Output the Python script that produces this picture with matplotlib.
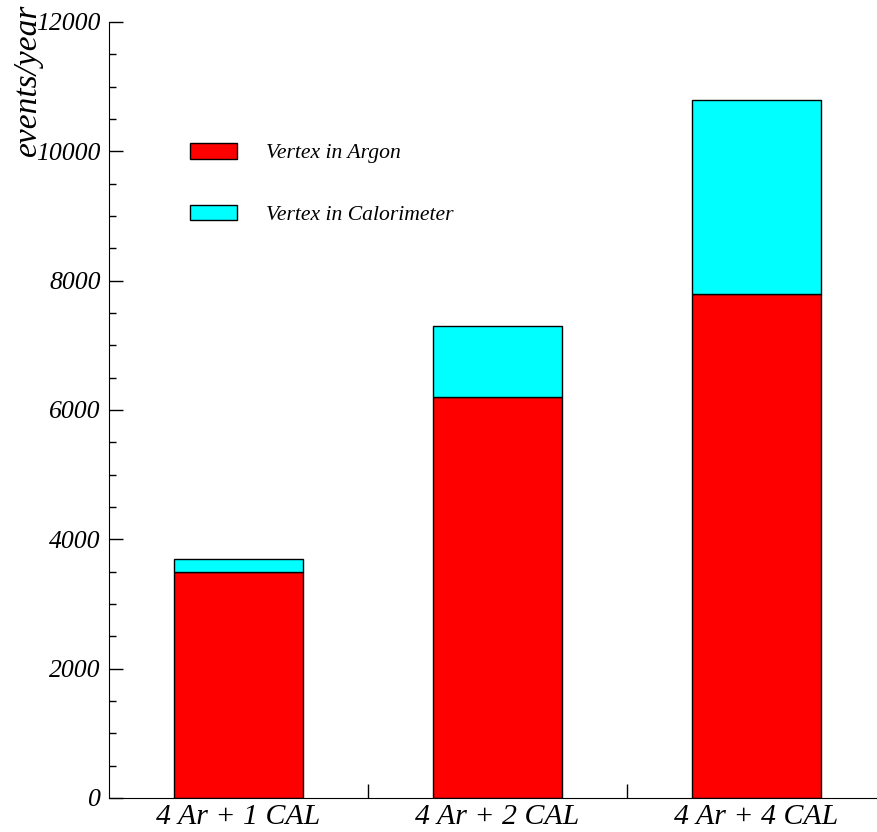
import matplotlib
matplotlib.use("Agg")
import matplotlib.pyplot as plt
import numpy as np

configs = ["4 Ar + 1 CAL", "4 Ar + 2 CAL", "4 Ar + 4 CAL"]
argon = [3500, 6200, 7800]
calo = [200, 1100, 3000]

plt.rcParams['font.family'] = 'Liberation Serif'
plt.rcParams['font.style'] = 'italic'

fig = plt.figure(figsize=(8.78, 8.32), dpi=100)
ax = fig.add_axes([109/878, 34/832, 769/878, 776/832])

x = np.arange(len(configs))
ax.bar(x, argon, width=0.5, color='#ff0000', edgecolor='black', lw=1, label='Vertex in Argon')
ax.bar(x, calo, width=0.5, bottom=argon, color='#00ffff', edgecolor='black', lw=1,
       label='Vertex in Calorimeter')

ax.set_xlim(-0.5, 2.47)
ax.set_ylim(0, 12000)
ax.spines['top'].set_visible(False)
ax.spines['right'].set_visible(False)

ax.set_yticks(np.arange(0, 12001, 2000))
ax.set_yticks(np.arange(0, 12001, 500), minor=True)
ax.tick_params(axis='y', which='major', direction='in', length=10, width=1, labelsize=18.5, pad=6)
ax.tick_params(axis='y', which='minor', direction='in', length=5, width=1)

ax.set_xticks(x)
ax.set_xticklabels(configs)
ax.set_xticks([0.5, 1.5], minor=True)
ax.tick_params(axis='x', which='major', length=0, labelsize=21.5, pad=4)
ax.tick_params(axis='x', which='minor', direction='in', length=10, width=1)

fig.text(28/878, 1 - 80/832, "events/year", rotation=90, ha='center', va='center', fontsize=24)

ax.legend(loc='upper left', bbox_to_anchor=(0.105, 0.844), frameon=False, fontsize=15.6,
          handlelength=2.2, handleheight=0.74, labelspacing=1.9, handletextpad=1.3,
          borderpad=0, borderaxespad=0)

fig.savefig("out.png", dpi=100)
